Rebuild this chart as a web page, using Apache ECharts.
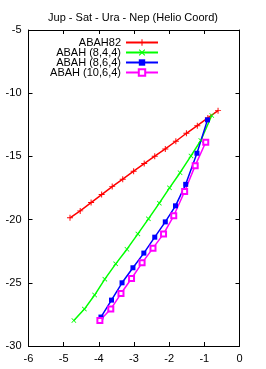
<!DOCTYPE html>
<html><head><meta charset="utf-8">
<script src="https://cdn.jsdelivr.net/npm/echarts@6/dist/echarts.min.js"></script>
<style>html,body{margin:0;padding:0;background:#fff}#c{width:266px;height:369px}</style>
</head><body><div id="c"></div>
<script>
const seriesNames = ['ABAH82', 'ABAH (8,4,4)', 'ABAH (8,6,4)', 'ABAH (10,6,4)'];
const xTicks = [-6, -5, -4, -3, -2, -1, 0];
const yTicks = [-30, -25, -20, -15, -10, -5];
const abah82X = [-4.82,-4.53,-4.22,-3.92,-3.62,-3.32,-3.01,-2.71,-2.41,-2.11,-1.81,-1.51,-1.20,-0.90,-0.61];
const abah82Y = [-19.86,-19.31,-18.65,-18.02,-17.39,-16.80,-16.17,-15.57,-14.98,-14.41,-13.80,-13.17,-12.57,-11.96,-11.38];
const abah844X = [-4.71,-4.41,-4.12,-3.83,-3.52,-3.20,-2.89,-2.59,-2.28,-1.99,-1.69,-1.38,-1.10,-0.79];
const abah844Y = [-27.98,-27.08,-25.97,-24.71,-23.50,-22.34,-21.13,-19.94,-18.70,-17.49,-16.29,-14.96,-13.74,-11.76];
const abah864X = [-3.94,-3.64,-3.34,-3.03,-2.72,-2.41,-2.11,-1.82,-1.53,-1.21,-0.91];
const abah864Y = [-27.71,-26.37,-25.00,-23.81,-22.65,-21.39,-20.18,-18.91,-17.21,-14.75,-12.11];
const abah1064X = [-3.97,-3.66,-3.37,-3.07,-2.77,-2.46,-2.16,-1.87,-1.56,-1.26,-0.96];
const abah1064Y = [-27.98,-27.08,-25.85,-24.66,-23.42,-22.26,-21.13,-19.70,-17.78,-15.73,-13.88];

const zip = (xs, ys) => xs.map((x, i) => [x, ys[i]]);
const FONT = '"Liberation Sans", Arial, sans-serif';
const plus = 'path://M4.2,0H5.8V4.2H10V5.8H5.8V10H4.2V5.8H0V4.2H4.2Z';
const cross = 'path://M1.1,0L5,3.9L8.9,0L10,1.1L6.1,5L10,8.9L8.9,10L5,6.1L1.1,10L0,8.9L3.9,5L0,1.1Z';

function mk(name, data, color, symbol, size, extra) {
  return Object.assign({
    name, type: 'line', data, symbol, symbolSize: size,
    xAxisIndex: 0, yAxisIndex: 0,
    lineStyle: { color, width: 1.5 },
    itemStyle: { color },
    animation: false
  }, extra || {});
}

const chart = echarts.init(document.getElementById('c'), null, { renderer: 'canvas' });
const axisCommon = {
  type: 'value',
  axisLine: { show: true, onZero: false, lineStyle: { color: '#000', width: 1 } },
  axisTick: { show: true, inside: true, length: 4, lineStyle: { color: '#000' } },
  splitLine: { show: false },
  axisLabel: { color: '#000', fontSize: 11, fontFamily: FONT }
};
chart.setOption({
  animation: false,
  title: {
    text: 'Jup - Sat - Ura - Nep (Helio Coord)', left: 'center', top: 7,
    textStyle: { fontSize: 11, fontWeight: 'normal', color: '#000', fontFamily: FONT }
  },
  legend: {
    orient: 'vertical', align: 'right', right: 105, top: 35,
    itemWidth: 32, itemHeight: 8, itemGap: -1, padding: 2,
    textStyle: { fontSize: 11, color: '#000', fontFamily: FONT },
    data: seriesNames
  },
  grid: { left: 28.5, right: 26.5, top: 30, bottom: 23 },
  xAxis: [
    Object.assign({}, axisCommon, { min: xTicks[0], max: xTicks[xTicks.length-1], interval: 1, position: 'bottom',
      axisLabel: Object.assign({}, axisCommon.axisLabel, { margin: 7 }) }),
    Object.assign({}, axisCommon, { min: xTicks[0], max: xTicks[xTicks.length-1], interval: 1, position: 'top',
      axisLabel: { show: false } })
  ],
  yAxis: [
    Object.assign({}, axisCommon, { min: yTicks[0], max: yTicks[yTicks.length-1], interval: 5, position: 'left',
      axisLabel: Object.assign({}, axisCommon.axisLabel, { margin: 7 }) }),
    Object.assign({}, axisCommon, { min: yTicks[0], max: yTicks[yTicks.length-1], interval: 5, position: 'right',
      axisLabel: { show: false } })
  ],
  series: [
    mk(seriesNames[0], zip(abah82X, abah82Y), '#ff0000', plus, 6),
    mk(seriesNames[1], zip(abah844X, abah844Y), '#00ff00', cross, 5),
    mk(seriesNames[2], zip(abah864X, abah864Y), '#0000ff', 'rect', 5),
    mk(seriesNames[3], zip(abah1064X, abah1064Y), '#ff00ff', 'emptyRect', 5,
      { itemStyle: { color: '#ff00ff', borderColor: '#ff00ff', borderWidth: 1.2 } })
  ]
});
</script></body></html>
